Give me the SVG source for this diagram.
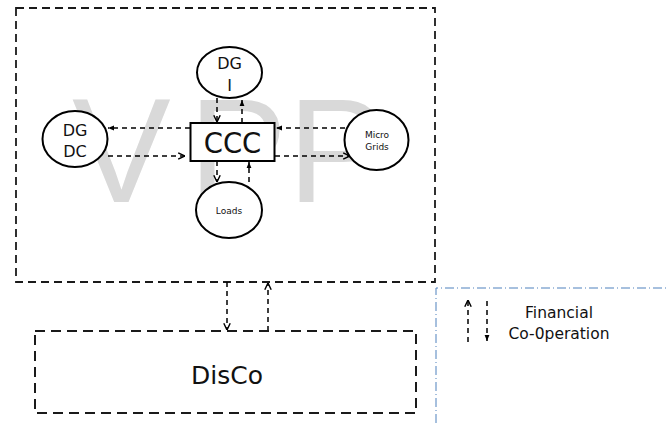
<svg xmlns="http://www.w3.org/2000/svg" width="668" height="423" viewBox="0 0 668 423">
<style>
.bg{fill:#ffffff}
.wm{font-family:"Liberation Sans",Arial,sans-serif;font-size:148px;fill:#d9d9d9}
.frame{fill:none;stroke:#1a1a1a;stroke-width:1.8;stroke-dasharray:8 5}
.disco{fill:none;stroke:#1a1a1a;stroke-width:2;stroke-dasharray:10 6}
.legendbox{fill:none;stroke:#4f81bd;stroke-width:1;stroke-dasharray:9 3 1 3}
.node{fill:#ffffff;stroke:#000000;stroke-width:2}
.t{font-family:"DejaVu Sans",sans-serif;fill:#111111;text-anchor:middle}
.c{fill:none;stroke:#000000;stroke-width:1.5;stroke-dasharray:5 4}
.open{marker-end:url(#openHead)}
.fill{marker-end:url(#fillHead)}
</style>
<defs>
<marker id="openHead" viewBox="0 0 10 10" refX="9.5" refY="5" markerWidth="8" markerHeight="8" markerUnits="userSpaceOnUse" orient="auto">
<path d="M1,1 L9.5,5 L1,9" fill="none" stroke="#000000" stroke-width="1.8"/>
</marker>
<marker id="fillHead" viewBox="0 0 10 10" refX="10" refY="5" markerWidth="6" markerHeight="6" markerUnits="userSpaceOnUse" orient="auto">
<path d="M0,1 L10,5 L0,9 z" fill="#000000"/>
</marker>
</defs>
<rect class="bg" x="0" y="0" width="668" height="423"/>

<g id="watermark">
<text class="wm" x="72" y="202">V</text>
<text class="wm" x="188.6" y="202">P</text>
<text class="wm" x="287.6" y="202">P</text>
</g>

<g id="vpp">
<rect class="frame" x="16" y="8" width="419" height="274"/>
</g>

<g id="legend-area">
<path class="legendbox" d="M436,423 L436,288 L668,288"/>
</g>

<g id="connectors">
<line class="c open" x1="217" y1="98" x2="217" y2="122"/>
<line class="c fill" x1="242" y1="123" x2="242" y2="100"/>
<line class="c fill" x1="190" y1="128" x2="108" y2="128"/>
<line class="c open" x1="108" y1="156" x2="185" y2="156"/>
<line class="c fill" x1="345" y1="128" x2="276" y2="128"/>
<line class="c open" x1="275" y1="156" x2="350" y2="156"/>
<line class="c open" x1="217" y1="161" x2="217" y2="182"/>
<line class="c fill" x1="249" y1="182" x2="249" y2="162"/>
<line class="c open" x1="227" y1="282" x2="227" y2="330"/>
<line class="c open" x1="268" y1="331" x2="268" y2="283"/>
<line class="c open" x1="468" y1="342" x2="468" y2="300"/>
<line class="c fill" x1="487" y1="301" x2="487" y2="341"/>
</g>

<g id="dgi">
<ellipse class="node" cx="229.5" cy="72.5" rx="32.5" ry="25.5"/>
<text class="t" x="229.5" y="69" font-size="16">DG</text>
<text class="t" x="229.5" y="91" font-size="16">I</text>
</g>

<g id="dgdc">
<ellipse class="node" cx="75" cy="139" rx="32.5" ry="28"/>
<text class="t" x="75" y="136" font-size="16">DG</text>
<text class="t" x="75" y="157" font-size="16">DC</text>
</g>

<g id="ccc">
<rect class="node" x="190.5" y="123" width="84" height="38"/>
<text class="t" x="232.5" y="153" font-size="27.5">CCC</text>
</g>

<g id="microgrids">
<ellipse class="node" cx="376.5" cy="140" rx="32" ry="30"/>
<text class="t" x="377" y="137.5" font-size="9">Micro</text>
<text class="t" x="377" y="149.5" font-size="9">Grids</text>
</g>

<g id="loads">
<ellipse class="node" cx="229" cy="210" rx="33" ry="28"/>
<text class="t" x="229" y="214" font-size="9">Loads</text>
</g>

<g id="disco">
<rect class="disco" x="35" y="331" width="381" height="82"/>
<text class="t" x="227" y="384" font-size="25">DisCo</text>
</g>

<g id="legend">
<text class="t" x="559" y="318" font-size="15.5">Financial</text>
<text class="t" x="559" y="339" font-size="15.5">Co-0peration</text>
</g>
</svg>
